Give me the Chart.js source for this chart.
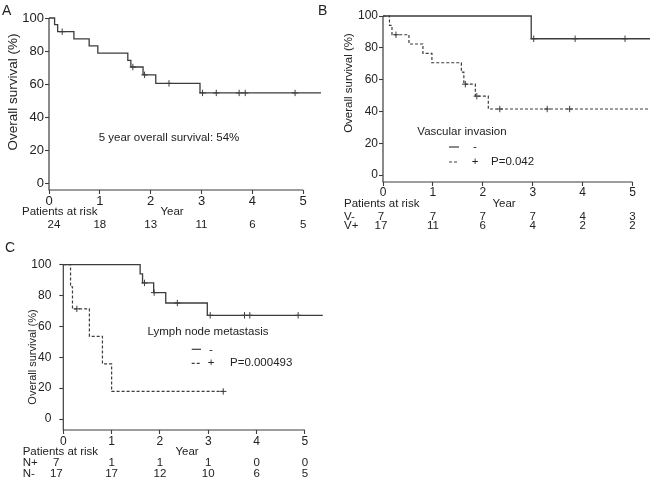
<!DOCTYPE html>
<html><head><meta charset="utf-8">
<script src="https://cdn.jsdelivr.net/npm/chart.js@4/dist/chart.umd.min.js"></script>
<style>
html,body{margin:0;padding:0;background:#fff;}
body{position:relative;width:655px;height:480px;overflow:hidden;font-family:"Liberation Sans",Arial,sans-serif;}
canvas{position:absolute;display:block;}
.lbl{position:absolute;font-size:14px;color:#222;line-height:14px;}
</style></head><body>
<canvas id="cA" width="330" height="240" style="left:0;top:0"></canvas>
<canvas id="cB" width="325" height="240" style="left:330px;top:0"></canvas>
<canvas id="cC" width="330" height="245" style="left:0;top:235px"></canvas>
<div class="lbl" style="left:2px;top:3px">A</div>
<div class="lbl" style="left:318px;top:3px">B</div>
<div class="lbl" style="left:5px;top:240px">C</div>
<script>
// ---------- data ----------
const yearTicks = [0, 1, 2, 3, 4, 5];
const survivalTicks = [0, 20, 40, 60, 80, 100];

// Panel A: all patients
const aTimes = [0, 0.11, 0.17, 0.49, 0.79, 0.96, 1.55, 1.61, 1.85, 2.10, 2.97, 5.35];
const aSurv  = [100, 96.0, 91.7, 87.4, 83.1, 78.7, 74.3, 70.3, 65.6, 60.4, 54.6, 54.6];
const aCensorTimes = [0.26, 1.65, 1.88, 2.36, 3.02, 3.29, 3.74, 3.86, 4.84];
const aCensorSurv  = [91.7, 70.3, 65.6, 60.4, 54.6, 54.6, 54.6, 54.6, 54.6];
const aRisk = [24, 18, 13, 11, 6, 5];

// Panel B: vascular invasion
const bNegTimes = [0, 2.97, 5.35];
const bNegSurv  = [100, 85.7, 85.7];
const bNegCensorTimes = [3.02, 3.85, 4.85];
const bNegCensorSurv  = [85.7, 85.7, 85.7];
const bPosTimes = [0, 0.13, 0.18, 0.52, 0.80, 0.98, 1.57, 1.62, 1.85, 2.11, 5.35];
const bPosSurv  = [100, 94.1, 88.2, 82.4, 76.5, 70.6, 64.7, 57.1, 49.6, 41.5, 41.5];
const bPosCensorTimes = [0.26, 1.65, 1.88, 2.34, 3.29, 3.74];
const bPosCensorSurv  = [88.2, 57.1, 49.6, 41.5, 41.5, 41.5];
const bRiskNeg = [7, 7, 7, 7, 4, 3];
const bRiskPos = [17, 11, 6, 4, 2, 2];

// Panel C: lymph node metastasis
const cNegTimes = [0, 1.59, 1.64, 1.87, 2.12, 2.98, 5.37];
const cNegSurv  = [100, 94.1, 88.2, 81.9, 75.2, 67.2, 67.2];
const cNegCensorTimes = [1.68, 1.88, 2.36, 3.04, 3.75, 3.86, 4.86];
const cNegCensorSurv  = [88.2, 81.9, 75.2, 67.2, 67.2, 67.2, 67.2];
const cPosTimes = [0, 0.15, 0.19, 0.54, 0.81, 1.00, 3.31];
const cPosSurv  = [100, 85.7, 71.4, 53.6, 35.7, 17.9, 17.9];
const cPosCensorTimes = [0.28, 3.31];
const cPosCensorSurv  = [71.4, 17.9];
const cRiskPos = [7, 1, 1, 1, 0, 0];
const cRiskNeg = [17, 17, 12, 10, 6, 5];

// ---------- rendering ----------
const INK = '#3c3c3c';
const TXT = '#222';
const FAM = '"Liberation Sans", Arial, Helvetica, sans-serif';
const pts = (xs, ys) => xs.map((x, i) => ({x: x, y: ys[i]}));

function curve(xs, ys, dashed) {
  return {type: 'line', data: pts(xs, ys), stepped: 'before', borderColor: INK,
    borderWidth: dashed ? 1.2 : 1.3, borderDash: dashed ? [3, 2] : [], pointRadius: 0,
    fill: false, clip: false, tension: 0};
}
function censors(xs, ys) {
  return {type: 'scatter', data: pts(xs, ys), pointStyle: 'cross', pointRadius: 3.2,
    borderColor: INK, borderWidth: 1, showLine: false, clip: false};
}

function makePanel(id, L) {
  const textPlugin = {
    id: 'annot' + id,
    afterDraw(chart) {
      const ctx = chart.ctx, xs = chart.scales.x, ys = chart.scales.y;
      const x0 = xs.getPixelForValue(0), x5 = xs.getPixelForValue(5);
      const yTop = ys.getPixelForValue(100), yBot = chart.chartArea.bottom;
      ctx.save();
      ctx.strokeStyle = INK; ctx.lineWidth = 1.2; ctx.setLineDash([]);
      ctx.beginPath();
      ctx.moveTo(x0, yTop); ctx.lineTo(x0, yBot); ctx.lineTo(x5, yBot);
      ctx.stroke();
      ctx.fillStyle = TXT;
      ctx.textBaseline = 'middle';
      // y title
      ctx.save();
      ctx.translate(L.titleX, L.titleY);
      ctx.rotate(-Math.PI / 2);
      ctx.textAlign = 'center';
      ctx.font = L.titleFont + 'px ' + FAM;
      ctx.fillText('Overall survival (%)', 0, 0);
      ctx.restore();
      // free texts
      ctx.font = L.textFont + 'px ' + FAM;
      L.texts.forEach(t => { ctx.textAlign = t.align || 'left'; ctx.fillText(t.s, t.x, t.y); });
      // legend samples
      (L.samples || []).forEach(s => {
        ctx.setLineDash(s.dash ? [3, 2] : []);
        ctx.beginPath(); ctx.moveTo(s.x1, s.y); ctx.lineTo(s.x2, s.y); ctx.stroke();
      });
      ctx.setLineDash([]);
      // risk table
      ctx.textAlign = 'center';
      L.riskRows.forEach(r => {
        r.values.forEach((v, i) => {
          const px = xs.getPixelForValue(yearTicks[i]) + (i === 0 ? L.firstColShift : 0);
          ctx.fillText(String(v), px, r.y);
        });
      });
      ctx.restore();
    }
  };
  return new Chart(document.getElementById(id), {
    type: 'line',
    data: {datasets: L.datasets},
    options: {
      responsive: false, animation: false, events: [],
      layout: {padding: {top: L.top, right: L.right, left: 0, bottom: 0}},
      plugins: {legend: {display: false}, tooltip: {enabled: false}},
      scales: {
        x: {type: 'linear', min: 0, max: L.xMax,
          afterBuildTicks: s => { s.ticks = yearTicks.map(v => ({value: v})); },
          afterFit: s => { s.height = L.axisH; },
          ticks: {font: {family: FAM, size: L.tickFont}, color: TXT, padding: L.xPad, maxRotation: 0, autoSkip: false},
          grid: {display: true, drawOnChartArea: false, drawTicks: true, tickLength: 4, color: INK, tickWidth: 1.1},
          border: {display: false}},
        y: {type: 'linear', min: L.yMin, max: 100,
          afterBuildTicks: s => { s.ticks = survivalTicks.map(v => ({value: v})); },
          afterFit: s => { s.width = L.axisW; },
          ticks: {font: {family: FAM, size: L.tickFont}, color: TXT, padding: L.yPad, autoSkip: false},
          grid: {display: true, drawOnChartArea: false, drawTicks: true, tickLength: 4, color: INK, tickWidth: 1.1},
          border: {display: false}}
      }
    },
    plugins: [textPlugin]
  });
}

makePanel('cA', {
  top: 18, right: 9, axisW: 49, axisH: 50, xMax: 5.35, yMin: -4.2,
  tickFont: 13, xPad: 0, yPad: 1, titleFont: 13.5, titleX: 13, titleY: 92, textFont: 11.5,
  datasets: [curve(aTimes, aSurv, false), censors(aCensorTimes, aCensorSurv)],
  texts: [
    {s: '5 year overall survival: 54%', x: 169, y: 138, align: 'center'},
    {s: 'Patients at risk', x: 22, y: 212},
    {s: 'Year', x: 172, y: 212, align: 'center'}
  ],
  riskRows: [{values: aRisk, y: 225}],
  firstColShift: 5
});

makePanel('cB', {
  top: 16, right: 0, axisW: 53, axisH: 58, xMax: 5.35, yMin: -4.4,
  tickFont: 12, xPad: -1, yPad: 1, titleFont: 11.5, titleX: 19, titleY: 83, textFont: 11.5,
  datasets: [curve(bNegTimes, bNegSurv, false), censors(bNegCensorTimes, bNegCensorSurv),
             curve(bPosTimes, bPosSurv, true), censors(bPosCensorTimes, bPosCensorSurv)],
  texts: [
    {s: 'Vascular invasion', x: 132, y: 132, align: 'center'},
    {s: '-', x: 145, y: 147, align: 'center'},
    {s: '+', x: 145, y: 162, align: 'center'},
    {s: 'P=0.042', x: 161, y: 162},
    {s: 'Patients at risk', x: 14, y: 204},
    {s: 'Year', x: 174, y: 204, align: 'center'},
    {s: 'V-', x: 14, y: 216.7},
    {s: 'V+', x: 14, y: 225.7}
  ],
  samples: [{x1: 119, x2: 129, y: 147, dash: false}, {x1: 119, x2: 129, y: 162, dash: true}],
  riskRows: [{values: bRiskNeg, y: 216.7}, {values: bRiskPos, y: 225.7}],
  firstColShift: -2
});

makePanel('cC', {
  top: 29.7, right: 7.7, axisW: 63.3, axisH: 50, xMax: 5.36, yMin: -7.1,
  tickFont: 12, xPad: 0, yPad: 8, titleFont: 11, titleX: 32.5, titleY: 122, textFont: 11.5,
  datasets: [curve(cNegTimes, cNegSurv, false), censors(cNegCensorTimes, cNegCensorSurv),
             curve(cPosTimes, cPosSurv, true), censors(cPosCensorTimes, cPosCensorSurv)],
  texts: [
    {s: 'Lymph node metastasis', x: 208, y: 96.7, align: 'center'},
    {s: '-', x: 211, y: 115, align: 'center'},
    {s: '+', x: 211, y: 128.3, align: 'center'},
    {s: 'P=0.000493', x: 230, y: 128.3},
    {s: 'Patients at risk', x: 22.7, y: 216.7},
    {s: 'Year', x: 187, y: 216.7, align: 'center'},
    {s: 'N+', x: 22.7, y: 228.3},
    {s: 'N-', x: 22.7, y: 239}
  ],
  samples: [{x1: 191.7, x2: 201, y: 114.3, dash: false}, {x1: 191.7, x2: 201, y: 128.3, dash: true}],
  riskRows: [{values: cRiskPos, y: 228.3}, {values: cRiskNeg, y: 239}],
  firstColShift: -7
});
</script>
</body></html>
